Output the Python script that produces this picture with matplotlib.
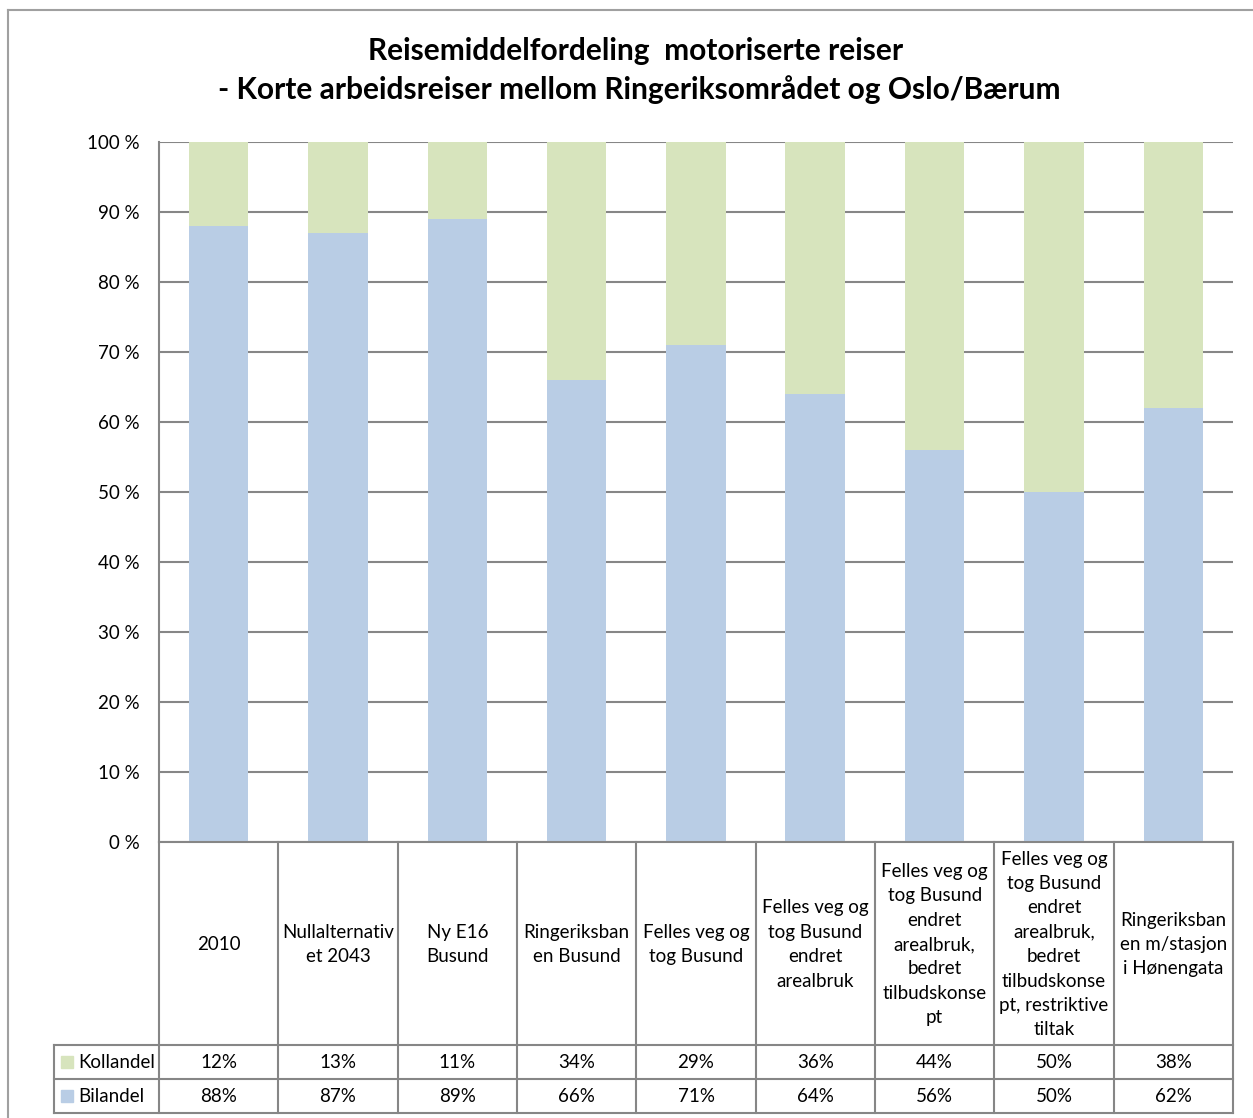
import numpy as np
import matplotlib.pyplot as plt
from matplotlib.patches import Rectangle
from matplotlib.lines import Line2D

plt.rcParams['font.family'] = ['Lato', 'DejaVu Sans']

# kategorier (tekst i tabellhodet, med linjeskift)
scenarios = ['2010',
             'Nullalternativ\net 2043',
             'Ny E16\nBusund',
             'Ringeriksban\nen Busund',
             'Felles veg og\ntog Busund',
             'Felles veg og\ntog Busund\nendret\narealbruk',
             'Felles veg og\ntog Busund\nendret\narealbruk,\nbedret\ntilbudskonse\npt',
             'Felles veg og\ntog Busund\nendret\narealbruk,\nbedret\ntilbudskonse\npt, restriktive\ntiltak',
             'Ringeriksban\nen m/stasjon\ni Hønengata']
bilandel = [88, 87, 89, 66, 71, 64, 56, 50, 62]
kollandel = [12, 13, 11, 34, 29, 36, 44, 50, 38]
yticks = [0, 10, 20, 30, 40, 50, 60, 70, 80, 90, 100]

c_bil = '#B9CDE5'
c_koll = '#D7E4BD'
c_grid = '#868686'

W, H = 1253, 1118
fig = plt.figure(figsize=(W / 100, H / 100), dpi=100)

# ytre ramme
fig.add_artist(Line2D([8 / W, 8 / W], [0, 1 - 10 / H], color='#A0A0A0', lw=1.5))
fig.add_artist(Line2D([8 / W, 1], [1 - 10 / H, 1 - 10 / H], color='#A0A0A0', lw=1.5))

x0, x1, ytop, ybot = 159, 1233, 142, 842
ax = fig.add_axes([x0 / W, (H - ybot) / H, (x1 - x0) / W, (ybot - ytop) / H])

n = len(scenarios)
x = np.arange(n)
ax.bar(x, bilandel, width=0.5, color=c_bil, zorder=2)
ax.bar(x, kollandel, width=0.5, bottom=bilandel, color=c_koll, zorder=2)

ax.set_xlim(-0.5, n - 0.5)
ax.set_ylim(0, 100)
ax.set_yticks(yticks)
ax.set_yticklabels(['%d %%' % v for v in yticks], fontsize=13.5)
ax.tick_params(axis='y', length=0, pad=14)
ax.set_xticks([])
ax.yaxis.grid(True, color=c_grid, lw=1.5, zorder=0)
ax.set_axisbelow(True)
for s in ['top', 'right', 'bottom']:
    ax.spines[s].set_visible(False)
ax.spines['left'].set_color(c_grid)
ax.spines['left'].set_linewidth(1.5)

# datatabell under diagrammet (i pikselkoordinater omregnet til figur)
def fx(px):
    return px / W

def fy(py):
    return 1 - py / H

lc = dict(color=c_grid, lw=1.5)
colw = (x1 - x0) / n
y_head, y_r1, y_r2, y_end = 842, 1045, 1079, 1113
tx0 = 54

for y in [y_r1, y_r2, y_end]:
    fig.add_artist(Line2D([fx(tx0), fx(x1)], [fy(y), fy(y)], **lc))
fig.add_artist(Line2D([fx(x0), fx(x1)], [fy(y_head), fy(y_head)], **lc))
fig.add_artist(Line2D([fx(tx0), fx(tx0)], [fy(y_r1), fy(y_end)], **lc))
for i in range(n + 1):
    xp = x0 + i * colw
    fig.add_artist(Line2D([fx(xp), fx(xp)], [fy(y_head), fy(y_end)], **lc))

for i, lab in enumerate(scenarios):
    xc = x0 + (i + 0.5) * colw
    fig.text(fx(xc), fy((y_head + y_r1) / 2 + 1), lab, ha='center', va='center',
             fontsize=13.5, linespacing=1.53)
    fig.text(fx(xc), fy((y_r1 + y_r2) / 2), '%d%%' % kollandel[i],
             ha='center', va='center', fontsize=13.5)
    fig.text(fx(xc), fy((y_r2 + y_end) / 2), '%d%%' % bilandel[i],
             ha='center', va='center', fontsize=13.5)

for (name, col, ya, yb) in [('Kollandel', c_koll, y_r1, y_r2),
                            ('Bilandel', c_bil, y_r2, y_end)]:
    ym = (ya + yb) / 2
    fig.add_artist(Rectangle((fx(61), fy(ym + 6)), 12 / W, 12 / H,
                             color=col, transform=fig.transFigure))
    fig.text(fx(78), fy(ym), name, ha='left', va='center', fontsize=13.5)

fig.text(fx(636), fy(51), 'Reisemiddelfordeling  motoriserte reiser',
         ha='center', va='center', fontsize=21.5, fontweight='bold')
fig.text(fx(639), fy(90), '- Korte arbeidsreiser mellom Ringeriksområdet og Oslo/Bærum',
         ha='center', va='center', fontsize=21.5, fontweight='bold')

fig.savefig('out.png', dpi=100)
